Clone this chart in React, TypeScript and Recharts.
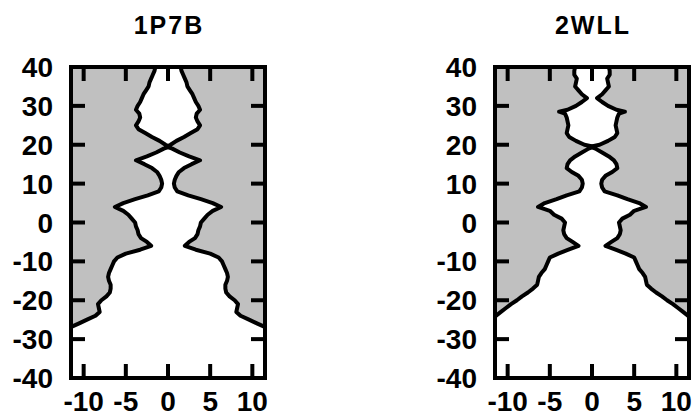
import { ComposedChart, Area, Line, XAxis, YAxis, ReferenceArea } from 'recharts';

// pore axis positions (Angstrom), shared by both profiles
const zLevels = [
  40, 39, 38, 37, 36, 35, 34, 33, 32, 31, 30, 29, 28.5, 28, 27, 26, 25, 24, 23, 22, 21, 20, 19.5, 19, 18, 17, 16,
  15, 14, 13, 12, 11, 10, 9, 8, 7, 6, 5, 4, 3, 2, 1, 0, -1, -2, -3, -4, -5, -6, -7, -8, -9, -10, -11, -12, -13,
  -14, -15, -16, -17, -18, -19, -20, -21, -22, -23, -24, -25, -26, -27, -28,
];

// pore radius
const radius1P7B = [
  1.5, 1.6, 1.8, 2.0, 2.2, 2.3, 2.6, 2.9, 3.1, 3.3, 3.6, 3.8, 3.6, 3.4, 3.3, 3.5, 3.8, 3.5, 2.7, 1.9, 1.0, 0.3, -0.2,
  0.5, 1.4, 2.5, 3.8, 2.8, 1.9, 1.3, 1.0, 0.8, 0.7, 0.8, 1.1, 2.4, 3.9, 5.3, 6.3, 5.3, 4.7, 4.3, 3.9, 3.8, 3.6,
  3.5, 3.2, 2.5, 2.0, 3.3, 5.0, 6.0, 6.4, 6.6, 6.8, 7.0, 7.1, 7.0, 6.8, 6.8, 6.9, 7.3, 7.9, 8.3, 8.2, 8.1, 8.6,
  9.6, 10.6, 11.6, 12.6,
];

const radius2WLL = [
  2.0, 2.1, 2.1, 1.8, 1.9, 2.0, 1.6, 1.2, 0.6, 1.2, 1.9, 2.9, 3.9, 3.2, 3.0, 2.9, 2.8, 2.9, 3.0, 2.7, 1.9, 0.9, -0.2,
  0.4, 1.2, 2.0, 2.6, 2.9, 3.0, 2.4, 1.6, 1.2, 1.1, 1.2, 1.5, 3.0, 4.2, 5.6, 6.4, 5.0, 4.5, 3.6, 3.2, 3.3, 3.4,
  3.3, 3.0, 2.3, 1.6, 2.8, 4.0, 5.0, 5.2, 5.4, 5.6, 6.0, 6.3, 6.4, 6.5, 7.0, 7.6, 8.3, 8.9, 9.6, 10.2, 10.8, 11.4,
  12.0, 12.6, 13.2, 13.8,
];

const xTicks = [-10, -5, 0, 5, 10];
const zTicks = [40, 30, 20, 10, 0, -10, -20, -30, -40];
const xDomain = [-11.5, 11.5];
const zDomain = [-40, 40];

const GRAY = '#c0c0c0';
const FONT = '"Liberation Sans", Arial, Helvetica, sans-serif';
const TICK = 14;

const labelStyle = { fontFamily: FONT, fontWeight: 700, fontSize: 28, fill: '#000' };

// ticks point inward, labels sit outside
const bottomTick = (p: any) => (
  <g>
    <path d={`M${p.x},${p.y}V${p.y - TICK}`} stroke="#000" strokeWidth={4} />
    <text x={p.x} y={p.y + 33} textAnchor="middle" style={labelStyle}>{p.payload.value}</text>
  </g>
);
const topTick = (p: any) => (
  <path d={`M${p.x},${p.y}V${p.y + TICK}`} stroke="#000" strokeWidth={4} />
);
const leftTick = (p: any) => (
  <g>
    <path d={`M${p.x},${p.y}H${p.x + TICK}`} stroke="#000" strokeWidth={4} />
    <text x={p.x - 18} y={p.y + 10} textAnchor="end" style={labelStyle}>{p.payload.value}</text>
  </g>
);
const rightTick = (p: any) => (
  <path d={`M${p.x},${p.y}H${p.x - TICK}`} stroke="#000" strokeWidth={4} />
);

function ProfilePanel({ title, radius, left, width, marginRight }: any) {
  const data = zLevels.map((z, i) => ({ z, neg: -radius[i], pos: radius[i] }));
  return (
    <div style={{ position: 'absolute', left, top: 0, width, height: 419 }}>
      <div
        style={{
          position: 'absolute', left: 71, width: 196, top: 11, textAlign: 'center',
          fontFamily: FONT, fontWeight: 700, fontSize: 25, letterSpacing: 2, lineHeight: '28px',
        }}
      >
        {title}
      </div>
      <ComposedChart
        layout="vertical"
        width={width}
        height={419}
        data={data}
        margin={{ top: 57, right: marginRight, bottom: 11, left: 0 }}
      >
        <XAxis xAxisId="b" type="number" domain={xDomain} allowDataOverflow ticks={xTicks} interval={0}
          tickSize={0} tickMargin={0} axisLine={false} tickLine={false} tick={bottomTick} height={30} />
        <XAxis xAxisId="t" orientation="top" type="number" domain={xDomain} allowDataOverflow ticks={xTicks} interval={0}
          tickSize={0} tickMargin={0} axisLine={false} tickLine={false} tick={topTick} height={10} />
        <YAxis yAxisId="l" type="number" dataKey="z" domain={zDomain} reversed allowDataOverflow ticks={zTicks} interval={0}
          tickSize={0} tickMargin={0} axisLine={false} tickLine={false} tick={leftTick} width={71} />
        <YAxis yAxisId="r" orientation="right" type="number" dataKey="z" domain={zDomain} reversed allowDataOverflow ticks={zTicks} interval={0}
          tickSize={0} tickMargin={0} axisLine={false} tickLine={false} tick={rightTick} width={10} />

        {/* gray region outside the pore, drawn over the inner ticks */}
        <Area xAxisId="b" yAxisId="l" type="linear" dataKey={(d: any) => [xDomain[0], d.neg]}
          fill={GRAY} fillOpacity={1} stroke="none" isAnimationActive={false} zIndex={600} />
        <Area xAxisId="b" yAxisId="l" type="linear" dataKey={(d: any) => [xDomain[1], d.pos]}
          fill={GRAY} fillOpacity={1} stroke="none" isAnimationActive={false} zIndex={600} />

        <Line xAxisId="b" yAxisId="l" type="linear" dataKey="neg" stroke="#000" strokeWidth={4}
          strokeLinejoin="round" dot={false} activeDot={false} isAnimationActive={false} zIndex={700} />
        <Line xAxisId="b" yAxisId="l" type="linear" dataKey="pos" stroke="#000" strokeWidth={4}
          strokeLinejoin="round" dot={false} activeDot={false} isAnimationActive={false} zIndex={700} />

        <ReferenceArea xAxisId="b" yAxisId="l" x1={xDomain[0]} x2={xDomain[1]} y1={zDomain[0]} y2={zDomain[1]}
          fill="none" fillOpacity={0} stroke="#000" strokeWidth={4} zIndex={800} />
      </ComposedChart>
    </div>
  );
}

export default function App() {
  return (
    <div style={{ position: 'absolute', left: 0, top: 0, width: 699, height: 419, background: '#fff' }}>
      <ProfilePanel title="1P7B" radius={radius1P7B} left={0} width={300} marginRight={25} />
      <ProfilePanel title="2WLL" radius={radius2WLL} left={424} width={275} marginRight={0} />
    </div>
  );
}
